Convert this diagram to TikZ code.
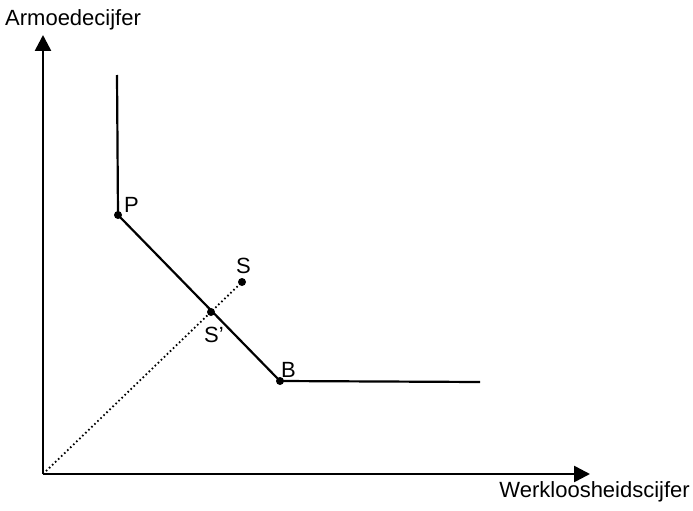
\documentclass[tikz,border=0pt]{standalone}
\usepackage{fontspec}
\setmainfont{Liberation Sans}
\usetikzlibrary{arrows.meta}
\begin{document}
\begin{tikzpicture}[x=1pt,y=-1pt,
  axis/.style={line width=2.6pt,-{Triangle[length=16pt,width=16pt]}},
  curve/.style={line width=2.2pt},
  pt/.style={circle,fill=black,inner sep=0pt,minimum size=8pt},
  lbl/.style={inner sep=0pt,font=\fontsize{22}{26}\selectfont}]
\useasboundingbox (0,0) rectangle (693,511);
\coordinate (O) at (43,474);
\coordinate (Ytip) at (43,35);
\coordinate (Xtip) at (590,474);
\coordinate (Vtop) at (117,75);
\coordinate (Hend) at (480,382);
\node[pt] (P) at (118,215) {};
\node[pt] (B) at (280,381) {};
\node[pt] (S) at (242,282) {};
\node[pt] (Sp) at (211,312) {};
\draw[axis] (O) -- (Ytip);
\draw[axis] (O) -- (Xtip);
\draw[curve] (Vtop) -- (P.center) -- (B.center) -- (Hend);
\draw[line width=1.8pt,dash pattern=on 1.6pt off 2.6pt] (O) -- (S.center);
\node[lbl,anchor=base west] (ly) at (5,26) {Armoedecijfer};
\node[lbl,anchor=base east] (lx) at (690,497) {Werkloosheidscijfer};
\node[lbl,anchor=base west] (lP) at (124,212) {P};
\node[lbl,anchor=base west] (lS) at (236,273) {S};
\node[lbl,anchor=base west] (lSp) at (204,342) {S'};
\node[lbl,anchor=base west] (lB) at (281,377) {B};
\end{tikzpicture}
\end{document}
